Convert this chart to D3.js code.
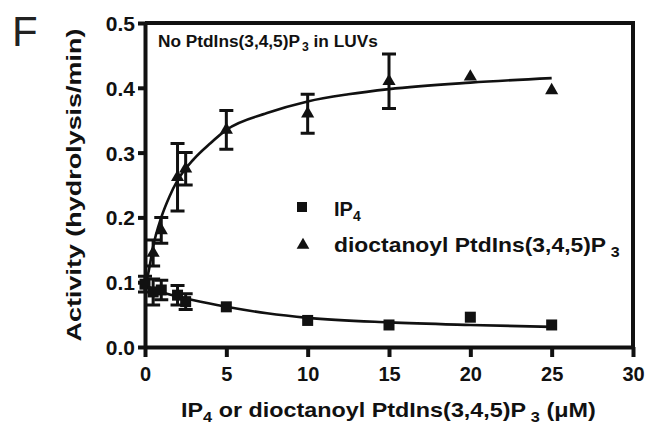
<!DOCTYPE html>
<html>
<head>
<meta charset="utf-8">
<script src="https://cdn.jsdelivr.net/npm/d3@7"></script>
<style>
  html, body { margin: 0; padding: 0; background: #fff; }
  svg { display: block; font-family: "Liberation Sans", Arial, sans-serif; }
</style>
</head>
<body>
<svg id="chart" width="648" height="427"></svg>
<script>
// ---- data ----
const xTicks = [0, 5, 10, 15, 20, 25, 30];
const yTicks = [0, 0.1, 0.2, 0.3, 0.4, 0.5];

// dioctanoyl PtdIns(3,4,5)P3 (triangles)
const triX   = [0.5, 1, 2, 2.5, 5, 10, 15, 20, 25];
const triY   = [0.145, 0.18, 0.262, 0.275, 0.335, 0.36, 0.41, 0.417, 0.396];
const triErr = [0.02, 0.02, 0.052, 0.025, 0.03, 0.03, 0.042, 0, 0];

// IP4 (squares)
const sqX   = [0, 0.5, 1, 2, 2.5, 5, 10, 15, 20, 25];
const sqY   = [0.097, 0.085, 0.088, 0.08, 0.07, 0.062, 0.041, 0.034, 0.046, 0.034];
const sqErr = [0.012, 0.02, 0.015, 0.015, 0.012, 0, 0, 0, 0, 0];

// fitted curves as drawn in the reference
const triFitX = [0, 0.25, 0.5, 1, 1.5, 2, 3, 4, 5, 7.5, 10, 12.5, 15, 20, 25];
const triFitY = [0.09, 0.12, 0.155, 0.2, 0.232, 0.257, 0.29, 0.314, 0.335, 0.361, 0.379, 0.39, 0.398, 0.408, 0.415];
const sqFitX = [0, 1, 2, 3, 5, 7.5, 10, 15, 20, 25];
const sqFitY = [0.095, 0.085, 0.078, 0.072, 0.062, 0.052, 0.045, 0.038, 0.034, 0.031];

const ink = "#111";
const svg = d3.select("#chart");

const x = d3.scaleLinear().domain([0, 30]).range([145, 633]);
const y = d3.scaleLinear().domain([0, 0.5]).range([347, 23]);

// frame (top/right)
svg.append("path")
  .attr("d", `M${x(0)},${y(0.5)}H${x(30)}V${y(0)}`)
  .attr("fill", "none").attr("stroke", ink).attr("stroke-width", 4);

// axes
const gx = svg.append("g").attr("transform", `translate(0,${y(0)})`)
  .call(d3.axisBottom(x).tickValues(xTicks).tickFormat(d3.format("d")).tickSize(10).tickSizeOuter(0).tickPadding(10));
const gy = svg.append("g").attr("transform", `translate(${x(0)},0)`)
  .call(d3.axisLeft(y).tickValues(yTicks).tickFormat(d3.format(".1f")).tickSize(7).tickSizeOuter(0).tickPadding(3));
[gx, gy].forEach(g => {
  g.select(".domain").attr("stroke", ink).attr("stroke-width", 4);
  g.selectAll(".tick line").attr("stroke", ink).attr("stroke-width", 4);
  g.selectAll(".tick text").attr("fill", ink).attr("font-size", 20).attr("font-weight", "bold")
    .attr("font-family", "'Liberation Sans', Arial, sans-serif");
});
gy.selectAll(".tick text").attr("dy", "0.36em").attr("font-size", 21);

// curves
const line = d3.line().x(d => x(d[0])).y(d => y(d[1])).curve(d3.curveMonotoneX);
svg.append("path").datum(triFitX.map((v, i) => [v, triFitY[i]]))
  .attr("d", line).attr("fill", "none").attr("stroke", ink).attr("stroke-width", 2.6);
svg.append("path").datum(sqFitX.map((v, i) => [v, sqFitY[i]]))
  .attr("d", line).attr("fill", "none").attr("stroke", ink).attr("stroke-width", 2.6);

// error bars
function errBars(xs, ys, es) {
  const data = xs.map((v, i) => ({ x: v, y: ys[i], e: es[i] })).filter(d => d.e > 0);
  const g = svg.append("g").attr("stroke", ink).attr("stroke-width", 3).attr("fill", "none");
  const cap = 7;
  g.selectAll("path").data(data).join("path")
    .attr("d", d => {
      const cx = x(d.x), t = y(d.y + d.e), b = y(d.y - d.e);
      return `M${cx},${t}V${b}M${cx - cap},${t}H${cx + cap}M${cx - cap},${b}H${cx + cap}`;
    });
}
errBars(sqX, sqY, sqErr);
errBars(triX, triY, triErr);

// markers
const sq = 11;
svg.append("g").selectAll("rect").data(sqX.map((v, i) => [v, sqY[i]])).join("rect")
  .attr("x", d => x(d[0]) - sq / 2).attr("y", d => y(d[1]) - sq / 2)
  .attr("width", sq).attr("height", sq).attr("fill", ink);
const tri = d3.symbol().type(d3.symbolTriangle).size(75);
svg.append("g").selectAll("path").data(triX.map((v, i) => [v, triY[i]])).join("path")
  .attr("transform", d => `translate(${x(d[0])},${y(d[1])})`)
  .attr("d", tri).attr("fill", ink);

// helper: stretch text horizontally to a target width
function fit(sel, target) {
  const w = sel.node().getBBox().width;
  return w > 0 ? target / w : 1;
}

// panel letter
svg.append("text").attr("x", 12).attr("y", 46).attr("font-size", 42)
  .attr("fill", "#222").text("F");

// annotation
const ann = svg.append("text").attr("font-size", 17).attr("font-weight", "bold").attr("fill", ink);
ann.append("tspan").text("No PtdIns(3,4,5)P");
ann.append("tspan").attr("font-size", 12).attr("dx", 2).attr("dy", 4).text("3");
ann.append("tspan").attr("dy", -4).text(" in LUVs");
ann.attr("transform", `translate(158,47) scale(${fit(ann, 220)},1)`);

// legend
svg.append("rect").attr("x", 297).attr("y", 202).attr("width", 10).attr("height", 10).attr("fill", ink);
svg.append("path").attr("transform", "translate(303,245)")
  .attr("d", d3.symbol().type(d3.symbolTriangle).size(70)).attr("fill", ink);
const l1 = svg.append("text").attr("font-size", 20).attr("font-weight", "bold").attr("fill", ink);
l1.append("tspan").text("IP");
l1.append("tspan").attr("font-size", 14).attr("dy", 5).text("4");
l1.attr("transform", "translate(334,216)");
const l2 = svg.append("text").attr("font-size", 20).attr("font-weight", "bold").attr("fill", ink);
l2.append("tspan").text("dioctanoyl PtdIns(3,4,5)P");
l2.append("tspan").attr("font-size", 14).attr("dx", 4).attr("dy", 5).text("3");
l2.attr("transform", `translate(334,252) scale(${fit(l2, 286)},1)`);

// x-axis title
const xt = svg.append("text").attr("font-size", 20).attr("font-weight", "bold").attr("fill", ink);
xt.append("tspan").text("IP");
xt.append("tspan").attr("font-size", 14).attr("dy", 5).text("4");
xt.append("tspan").attr("dy", -5).text(" or dioctanoyl PtdIns(3,4,5)P");
xt.append("tspan").attr("font-size", 14).attr("dx", 4).attr("dy", 5).text("3");
xt.append("tspan").attr("dy", -5).text(" (\u03bcM)");
xt.attr("transform", `translate(181,417) scale(${fit(xt, 415)},1)`);

// y-axis title
const yt = svg.append("text").attr("font-size", 20).attr("font-weight", "bold").attr("fill", ink)
  .attr("text-anchor", "middle").text("Activity (hydrolysis/min)");
const ys = fit(yt, 313);
yt.attr("transform", `translate(81,${(y(0) + y(0.5)) / 2}) rotate(-90) scale(${ys},1)`);
</script>
</body>
</html>
